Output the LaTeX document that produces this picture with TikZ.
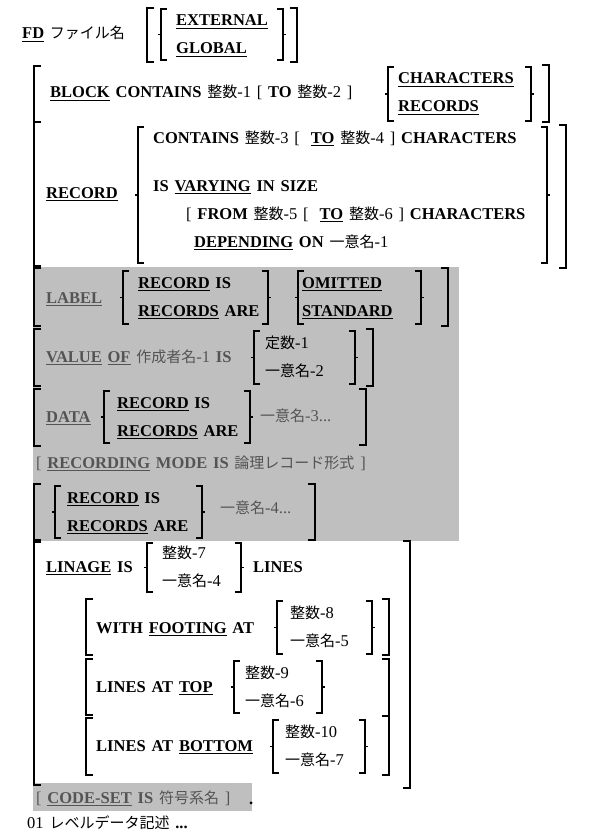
\documentclass[tikz,border=0pt]{standalone}
\usepackage{fontspec}
\setmainfont{Liberation Serif}
\newfontfamily\jpf{Noto Sans CJK JP}
\newcommand\J[1]{{\jpf\mdseries\fontsize{15}{18}\selectfont #1}}
\newcommand\JN[2]{\J{#1}{\mdseries #2}}
\newcommand\obr{{\mdseries[}}
\newcommand\cbr{{\mdseries]}}
\newcommand\uln[1]{\setbox0\hbox{#1}\rlap{\rule[-3pt]{\wd0}{1.1pt}}\box0\relax}
\newcommand\txtfont{\fontsize{16.5}{20}\selectfont\bfseries\spaceskip 5.8pt\relax}
\definecolor{obs}{gray}{0.33}
\definecolor{shadegray}{gray}{0.75}
\tikzset{
 txt/.style={anchor=west, inner sep=0pt, text height=12pt, text depth=0pt, font=\txtfont},
 obst/.style={txt, text=obs},
 sq/.style={line width=2pt},
 big/.style={line width=2.4pt},
 br/.style={line width=1.2pt},
}
\newcommand\Lsq[4][sq]{\draw[#1] (#2+7,#3) -- (#2,#3) -- (#2,#4) -- (#2+7,#4);}
\newcommand\Rsq[4][sq]{\draw[#1] (#2-7,#3) -- (#2,#3) -- (#2,#4) -- (#2-7,#4);}
\newcommand\Lbr[3]{\draw[br] (#1+6,#2) -- (#1,#2) -- (#1,#3) -- (#1+6,#3) (#1,{(#2+#3)/2}) -- (#1-3,{(#2+#3)/2});}
\newcommand\Rbr[3]{\draw[br] (#1-6,#2) -- (#1,#2) -- (#1,#3) -- (#1-6,#3) (#1,{(#2+#3)/2}) -- (#1+3,{(#2+#3)/2});}
\begin{document}
\begin{tikzpicture}[x=1pt,y=-1pt]
\useasboundingbox (0,0) rectangle (606,832);
% shaded areas
\fill[shadegray] (33,267) rectangle (459,541);
\fill[shadegray] (33,783) rectangle (252,811);

% FD line
\node[txt] (fd) at (22,33) {\uln{FD} \J{ファイル名}};
\Lsq{147}{8}{62}
\Lbr{161}{9}{60}
\node[txt] (ext) at (176,20) {\uln{EXTERNAL}};
\node[txt] (glb) at (176,48) {\uln{GLOBAL}};
\Rbr{283}{9}{60}
\Rsq{297}{8}{62}

% BLOCK
\Lsq[big]{34}{66}{122}
\node[txt] (blk) at (50,92) {\uln{BLOCK} CONTAINS \JN{整数}{-1} \obr{} TO \JN{整数}{-2} \cbr};
\Lbr{388}{67}{121}
\node[txt] (bch) at (398,78) {\uln{CHARACTERS}};
\node[txt] (brc) at (398,106) {\uln{RECORDS}};
\Rbr{531}{67}{121}
\Rsq{549}{65}{122}

% RECORD
\Lsq[big]{34}{122}{266}
\node[txt] (rec) at (46,192) {\uln{RECORD}};
\Lbr{138}{127}{263}
\node[txt] (r1) at (153,137) {CONTAINS \JN{整数}{-3} \obr\hspace{11pt}\uln{TO} \JN{整数}{-4} \cbr{} CHARACTERS};
\node[txt] (r2) at (153,185) {IS \uln{VARYING} IN SIZE};
\node[txt] (r3) at (186,213) {\obr{} FROM \JN{整数}{-5} \obr\hspace{11pt}\uln{TO} \JN{整数}{-6} \cbr{} CHARACTERS};
\node[txt] (r4) at (194,241) {\uln{DEPENDING} ON \JN{一意名}{-1}};
\Rbr{547}{127}{263}
\Rsq{566}{125}{268}

% LABEL
\Lsq[big]{34}{268}{326}
\node[obst] (lab) at (46,297) {\uln{LABEL}};
\Lbr{123}{271}{324}
\node[txt] (l1) at (138,282) {\uln{RECORD} IS};
\node[txt] (l2) at (138,310) {\uln{RECORDS} ARE};
\Rbr{268}{271}{324}
\Lbr{298}{271}{324}
\node[txt] (l3) at (302,282) {\uln{OMITTED}};
\node[txt] (l4) at (302,310) {\uln{STANDARD}};
\Rbr{421}{271}{324}
\Rsq{448}{268}{326}

% VALUE
\Lsq[big]{34}{329}{386}
\node[obst] (val) at (46,356) {\uln{VALUE} \uln{OF} \JN{作成者名}{-1} IS};
\Lbr{254}{331}{384}
\node[txt] (v1) at (265,342) {\JN{定数}{-1}};
\node[txt] (v2) at (265,370) {\JN{一意名}{-2}};
\Rbr{355}{331}{384}
\Rsq{373}{329}{386}

% DATA
\Lsq[big]{34}{389}{446}
\node[obst] (dat) at (46,416) {\uln{DATA}};
\Lbr{104}{391}{443}
\node[txt] (d1) at (117,402) {\uln{RECORD} IS};
\node[txt] (d2) at (117,430) {\uln{RECORDS} ARE};
\Rbr{250}{391}{443}
\node[obst] (d3) at (260,415) {\JN{一意名}{-3...}};
\Rsq{366}{389}{445}

% RECORDING MODE
\node[obst] (rm) at (36,462) {\obr{} \uln{RECORDING} MODE IS \J{論理レコード形式} \cbr};

% RECORD IS (2)
\Lsq[big]{34}{484}{540}
\Lbr{55}{486}{538}
\node[txt] (e1) at (67,497) {\uln{RECORD} IS};
\node[txt] (e2) at (67,525) {\uln{RECORDS} ARE};
\Rbr{202}{486}{538}
\node[obst] (e3) at (220,507) {\JN{一意名}{-4...}};
\Rsq{315}{484}{540}

% LINAGE
\Lsq[big]{34}{542}{785}
\node[txt] (lin) at (46,566) {\uln{LINAGE} IS};
\Lbr{147}{543}{592}
\node[txt] (n1) at (162,552) {\JN{整数}{-7}};
\node[txt] (n2) at (162,580) {\JN{一意名}{-4}};
\Rbr{241}{543}{592}
\node[txt] (lns) at (253,566) {LINES};
\Rsq[big]{410}{541}{788}

% WITH FOOTING
\Lsq{86}{599}{655}
\node[txt] (wf) at (96,627) {WITH \uln{FOOTING} AT};
\Lbr{277}{601}{654}
\node[txt] (f1) at (290,612) {\JN{整数}{-8}};
\node[txt] (f2) at (290,640) {\JN{一意名}{-5}};
\Rbr{372}{601}{654}
\Rsq{389}{599}{655}

% LINES AT TOP
\Lsq{86}{659}{715}
\node[txt] (lt) at (96,686) {LINES AT \uln{TOP}};
\Lbr{234}{661}{713}
\node[txt] (t1) at (245,672) {\JN{整数}{-9}};
\node[txt] (t2) at (245,700) {\JN{一意名}{-6}};
\Rbr{322}{661}{713}
\Rsq{389}{659}{716}

% LINES AT BOTTOM
\Lsq{86}{718}{775}
\node[txt] (lb) at (96,745) {LINES AT \uln{BOTTOM}};
\Lbr{273}{720}{773}
\node[txt] (b1) at (285,731) {\JN{整数}{-10}};
\node[txt] (b2) at (285,759) {\JN{一意名}{-7}};
\Rbr{365}{720}{773}
\Rsq{389}{716}{775}

% CODE-SET
\node[obst] (cs) at (36,797) {\obr{} \uln{CODE-SET} IS \J{符号系名} \cbr};
\node[txt] (dot) at (249,798) {.};

% 01 level
\node[txt] (lvl) at (27,822) {{\mdseries 01} \J{レベルデータ記述} ...};
\end{tikzpicture}
\end{document}
